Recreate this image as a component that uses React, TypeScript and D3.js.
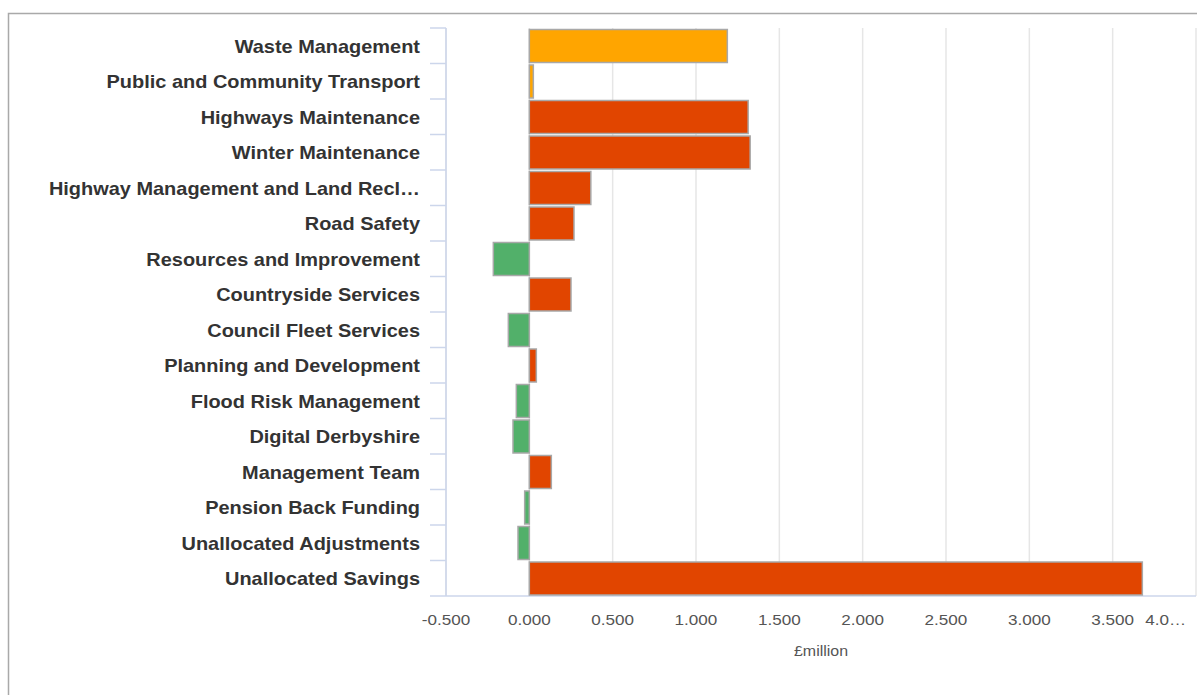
import React from "react";
import * as d3 from "d3";

// Forecast variance by service area, £million
const categories = [
  "Waste Management",
  "Public and Community Transport",
  "Highways Maintenance",
  "Winter Maintenance",
  "Highway Management and Land Recl…",
  "Road Safety",
  "Resources and Improvement",
  "Countryside Services",
  "Council Fleet Services",
  "Planning and Development",
  "Flood Risk Management",
  "Digital Derbyshire",
  "Management Team",
  "Pension Back Funding",
  "Unallocated Adjustments",
  "Unallocated Savings",
];

const values = [
  1.188, 0.024, 1.313, 1.325, 0.369, 0.268, -0.216, 0.25, -0.126, 0.042,
  -0.078, -0.098, 0.132, -0.028, -0.068, 3.678,
];

// RAG status of each line
const status = [
  "amber", "amber", "red", "red", "red", "red", "green", "red", "green", "red",
  "green", "green", "red", "green", "green", "red",
];

const tickValues = [-0.5, 0, 0.5, 1, 1.5, 2, 2.5, 3, 3.5, 4];

const statusColour: Record<string, string> = {
  amber: "#ffa500",
  red: "#e14500",
  green: "#52b06a",
};

const W = 1197;
const H = 695;
const plot = { left: 446, right: 1196, top: 28, bottom: 596 };
const SX = 1.14; // horizontal text stretch

export default function App() {
  const x = d3.scaleLinear().domain([-0.5, 4]).range([plot.left, plot.right]);
  const y = d3
    .scaleBand<string>()
    .domain(categories)
    .range([plot.top, plot.bottom])
    .paddingInner(0)
    .paddingOuter(0);
  const bw = y.bandwidth();
  const font = "'Liberation Sans', Arial, Helvetica, sans-serif";
  const fmt = (v: number) => d3.format(".3f")(v).replace("\u2212", "-");

  return (
    <svg
      width={W}
      height={H}
      style={{ position: "absolute", left: 0, top: 0, background: "#fff" }}
      fontFamily={font}
    >
      <rect x={0} y={0} width={W} height={H} fill="#fff" />
      {/* frame */}
      <rect x={8.5} y={13.5} width={W + 20} height={H + 20} fill="none" stroke="#a9a9a9" strokeWidth={1.5} />

      {/* vertical grid */}
      {tickValues.map((t) => (
        <line
          key={"g" + t}
          x1={x(t)}
          x2={x(t)}
          y1={plot.top}
          y2={plot.bottom}
          stroke="#e6e6e6"
          strokeWidth={1.5}
        />
      ))}

      {/* category axis */}
      <line x1={plot.left} x2={plot.left} y1={plot.top} y2={plot.bottom} stroke="#ccd6eb" strokeWidth={1.5} />
      {d3.range(categories.length + 1).map((i) => {
        const yy = plot.top + i * bw;
        return (
          <line key={"t" + i} x1={430} x2={plot.left} y1={yy} y2={yy} stroke="#ccd6eb" strokeWidth={1.5} />
        );
      })}
      <line x1={plot.left} x2={plot.right} y1={plot.bottom} y2={plot.bottom} stroke="#ccd6eb" strokeWidth={1.5} />

      {/* bars */}
      {categories.map((c, i) => {
        const v = values[i];
        const x0 = x(Math.min(0, v));
        const x1 = x(Math.max(0, v));
        return (
          <rect
            key={c}
            x={x0}
            y={(y(c) as number) + 1.5}
            width={Math.max(1, x1 - x0)}
            height={bw - 2.5}
            fill={statusColour[status[i]]}
            stroke="#a8a8a8"
            strokeWidth={1.5}
          />
        );
      })}

      {/* category labels */}
      {categories.map((c) => (
        <text
          key={"l" + c}
          transform={`translate(420,${(y(c) as number) + bw / 2 + 1}) scale(${SX},1)`}
          textAnchor="end"
          dy="0.35em"
          fontSize={17.5}
          fontWeight="bold"
          fill="#333333"
        >
          {c}
        </text>
      ))}

      {/* value axis labels */}
      {tickValues.map((t, i) => {
        const last = i === tickValues.length - 1;
        const label = last ? fmt(t).slice(0, 3) + "…" : fmt(t);
        const px = last ? 1186 : x(t);
        return (
          <text
            key={"v" + t}
            transform={`translate(${px},625) scale(${SX},1)`}
            textAnchor={last ? "end" : "middle"}
            fontSize={15}
            fill="#555555"
          >
            {label}
          </text>
        );
      })}
      <text
        transform={`translate(${(plot.left + plot.right) / 2},656) scale(${SX},1)`}
        textAnchor="middle"
        fontSize={14}
        fill="#555555"
      >
        £million
      </text>
    </svg>
  );
}
